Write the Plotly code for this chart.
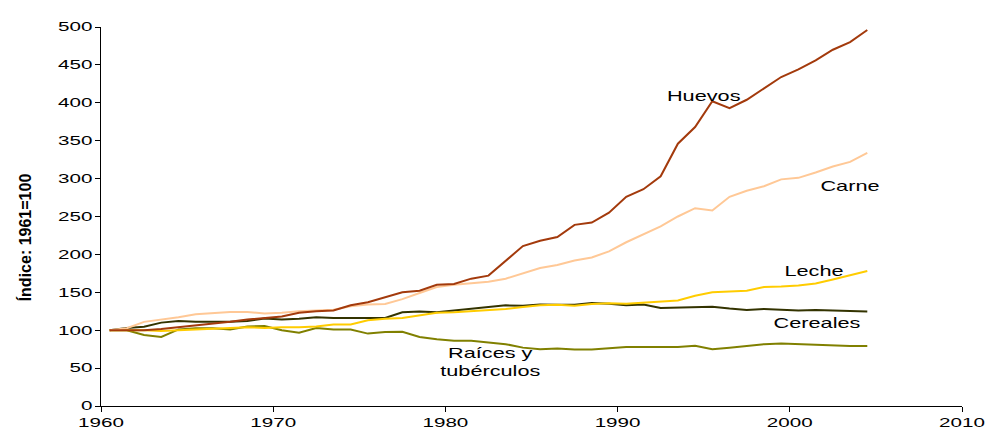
import plotly.graph_objects as go

years = list(range(1961, 2006))

huevos = [100, 100, 100, 101.5, 104, 106, 108, 111, 114, 116, 118, 123, 125, 126, 133, 137, 144, 150, 152,
          160, 161, 168, 172, 191, 211, 218, 223, 239, 242, 255, 276, 286, 303, 346, 368, 402, 393, 404,
          419, 434, 444, 456, 470, 480, 496]
carne = [100, 102.5, 111, 114, 117, 121, 122, 124, 124, 122, 123, 125, 126, 127, 131.5, 134, 134.5, 141, 149,
         157, 160, 162, 164, 168, 175, 182, 186, 192, 196, 204, 216, 227, 237, 250, 261, 258, 276, 284,
         290, 299, 301, 308, 316, 322, 334]
leche = [100, 100, 100, 99, 100, 101, 101.5, 103, 104, 103, 104, 104, 105, 107.5, 107.5, 113, 115, 116, 119.5,
         123, 123.7, 125, 126, 128, 130.6, 132.8, 133.7, 132.4, 134.5, 135.4, 135, 136.7, 138, 139.3, 145.4,
         150, 151, 152, 157, 157.5, 159, 161.5, 167, 172, 178]
cereales = [100, 103, 104.6, 110, 112, 111, 111, 111, 112, 115.5, 114, 115, 117, 116, 116, 116, 116, 123.7,
            124.6, 123.7, 126, 128, 130.6, 132.8, 132.4, 134, 133.7, 133.7, 135.8, 135, 133, 134, 129.3,
            129.8, 130.6, 131, 128.5, 126.7, 128, 126.7, 126, 126.7, 126, 125, 124.6]
raices = [100, 100, 93.7, 91, 101, 102.5, 102.5, 101, 105, 105.5, 100, 96.8, 103, 101, 101, 95.5, 97.7, 98,
          91, 88, 86, 86, 83.7, 81.6, 77, 75, 76, 74.6, 74.6, 76.4, 78, 78, 78, 78, 79.4, 75, 77, 79.4,
          81.6, 82.5, 81.6, 80.3, 79, 79, 79]

x_ticks = [1960, 1970, 1980, 1990, 2000, 2010]
y_ticks = [0, 50, 100, 150, 200, 250, 300, 350, 400, 450, 500]
y_title = "Índice: 1961=100"

series = [
    ("Raíces y tubérculos", raices, "#808000"),
    ("Cereales", cereales, "#333300"),
    ("Leche", leche, "#FFCC00"),
    ("Carne", carne, "#FFC896"),
    ("Huevos", huevos, "#A33A0C"),
]

# points sit at the middle of each year interval
xpos = [y - 0.5 for y in years]

fig = go.Figure()
for name, vals, color in series:
    fig.add_trace(go.Scatter(x=xpos, y=vals, mode="lines", name=name,
                             line=dict(color=color, width=2), hoverinfo="x+y+name"))

font_main = "Liberation Sans, Arial, sans-serif"
labels = [
    ("Huevos", 1995.0, 409),
    ("Carne", 2003.5, 290),
    ("Leche", 2001.4, 178),
    ("Cereales", 2001.6, 109),
    ("Raíces y<br>tubérculos", 1982.6, 58),
]
for text, x, y in labels:
    fig.add_annotation(x=x, y=y, text=text, showarrow=False, align="center",
                       font=dict(family=font_main, size=14, color="#000000"))

# y-axis title placed as a rotated annotation
fig.add_annotation(x=0, y=0.445, xref="paper", yref="paper", xanchor="center", yanchor="middle",
                   xshift=-76, text="<b>" + y_title + "</b>", textangle=-90, showarrow=False,
                   font=dict(family="Liberation Sans Narrow, Arial Narrow, Liberation Sans, sans-serif",
                             size=16, color="#000000"))

fig.update_layout(
    width=995, height=436,
    margin=dict(l=93, r=41, t=14, b=38),
    plot_bgcolor="white", paper_bgcolor="white",
    showlegend=False,
    font=dict(family=font_main, size=13, color="#000000"),
)
fig.update_xaxes(range=[1960, 2010], tickvals=x_ticks, ticktext=[str(t) for t in x_ticks],
                 showgrid=False, zeroline=False, showline=True, linecolor="#000000", linewidth=1,
                 ticks="outside", ticklen=5, tickcolor="#000000", tickfont=dict(size=12.5))
fig.update_yaxes(range=[0, 500], tickvals=y_ticks, showgrid=False, zeroline=False,
                 showline=True, linecolor="#000000", linewidth=1,
                 ticks="outside", ticklen=5, tickcolor="#000000", tickfont=dict(size=12.5))

# the reference text is horizontally stretched; widen the rendered text the same way
post_js = """
var gd = document.getElementById('{plot_id}');
function widen(sel, sx){
  gd.querySelectorAll(sel).forEach(function(t){
    if (t.getAttribute('data-wide')) return;
    if (t.textContent.indexOf('ndice') >= 0) return;
    var b = t.getBBox();
    var cx = b.x + b.width / 2;
    if (t.getAttribute('text-anchor') === 'end') cx = b.x + b.width;
    var tr = t.getAttribute('transform') || '';
    t.setAttribute('transform', tr + ' translate(' + cx + ',0) scale(' + sx + ',1) translate(' + (-cx) + ',0)');
    t.setAttribute('data-wide', '1');
  });
}
widen('.xtick text', 1.65);
widen('.ytick text', 1.65);
widen('.annotation-text', 1.55);
"""

fig.write_html("out.html", post_script=post_js)
